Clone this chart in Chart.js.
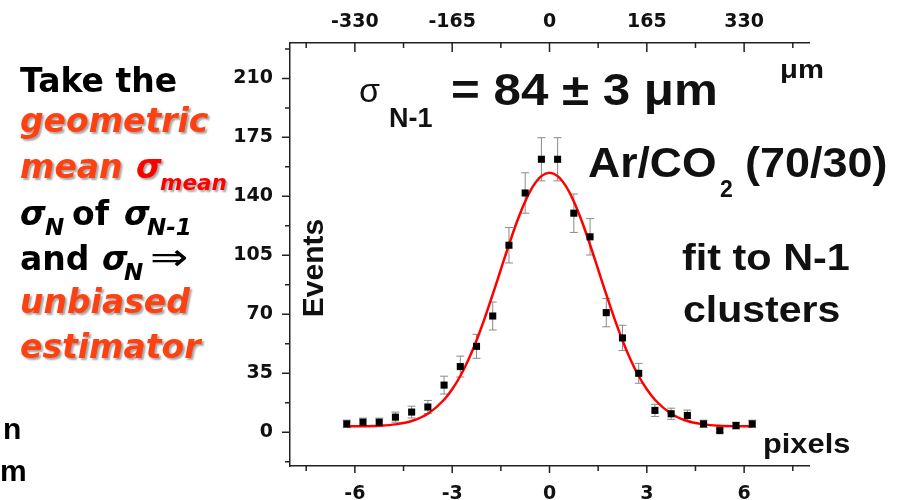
<!DOCTYPE html>
<html>
<head>
<meta charset="utf-8">
<script src="https://cdn.jsdelivr.net/npm/chart.js@4/dist/chart.umd.min.js"></script>
<style>
  html, body { margin: 0; padding: 0; background: #fff; }
  #wrap { width: 906px; height: 500px; position: relative; }
</style>
</head>
<body>
<div id="wrap"><canvas id="c" width="906" height="500"></canvas></div>
<script>
// residual histogram (pixels) with sqrt(N) error bars
const xBins = [-6.25, -5.75, -5.25, -4.75, -4.25, -3.75, -3.25, -2.75, -2.25, -1.75, -1.25, -0.75, -0.25,
               0.25, 0.75, 1.25, 1.75, 2.25, 2.75, 3.25, 3.75, 4.25, 4.75, 5.25, 5.75, 6.25];
const events = [5, 6, 6, 9, 12, 15, 28, 39, 51, 69, 111, 142, 162,
                162, 130, 116, 71, 56, 35, 13, 11, 10, 5, 1, 4, 5];
const errors = [2.2, 2.4, 2.4, 3, 3.5, 3.9, 5.3, 6.2, 7.1, 8.3, 10.5, 12, 12.8,
                12.8, 11.4, 10.8, 8.4, 7.5, 5.9, 3.6, 3.3, 3.2, 2.2, 1, 2, 2.2];

// gaussian fit curve
const fitX = [-6.25, -5.75, -5.25, -4.75, -4.25, -3.75, -3.25, -3, -2.75, -2.5, -2.25, -2, -1.75, -1.5, -1.25, -1, -0.75, -0.5, -0.25, 0,
              0.25, 0.5, 0.75, 1, 1.25, 1.5, 1.75, 2, 2.25, 2.5, 2.75, 3, 3.25, 3.75, 4.25, 4.75, 5.25, 5.75, 6.25];
const fitY = [3.5, 3.6, 3.9, 4.7, 6.7, 11, 19.3, 25.5, 33.4, 43.1, 54.5, 67.6, 81.8, 96.6, 111.3, 125.1, 137, 146.2, 152, 154,
              152, 146.2, 137, 125.1, 111.3, 96.6, 81.8, 67.6, 54.5, 43.1, 33.4, 25.5, 19.3, 11, 6.7, 4.7, 3.9, 3.6, 3.5];

// tick values
const xTicks = [-6, -3, 0, 3, 6];
const xMinor = [-7.5, -4.5, -1.5, 1.5, 4.5, 7.5];
const topTicks = [-330, -165, 0, 165, 330];
const topMinor = [-412.5, -247.5, -82.5, 82.5, 247.5, 412.5];
const yTicks = [0, 35, 70, 105, 140, 175, 210];
const yMinor = [-17.5, 17.5, 52.5, 87.5, 122.5, 157.5, 192.5, 227.5];

const ORANGE = '#ff4010';
const tickFont = { family: 'DejaVu Sans', size: 19, weight: 'bold' };

function txt(ctx, s, x, y, font, color, sx) {
    ctx.save();
    ctx.font = font;
    ctx.fillStyle = color;
    ctx.translate(x, y);
    ctx.scale(sx || 1, 1);
    ctx.fillText(s, 0, 0);
    ctx.restore();
}

const errorBars = {
    id: 'errorBars',
    beforeDatasetsDraw(chart) {
        const ctx = chart.ctx, xs = chart.scales.x, ys = chart.scales.y;
        ctx.save();
        ctx.strokeStyle = '#8a8a8a';
        ctx.lineWidth = 1;
        xBins.forEach((xv, i) => {
            const px = xs.getPixelForValue(xv);
            const t = ys.getPixelForValue(events[i] + errors[i]);
            const b = ys.getPixelForValue(events[i] - errors[i]);
            ctx.beginPath();
            ctx.moveTo(px, t); ctx.lineTo(px, b);
            ctx.moveTo(px - 4, t); ctx.lineTo(px + 4, t);
            ctx.moveTo(px - 4, b); ctx.lineTo(px + 4, b);
            ctx.stroke();
        });
        ctx.restore();
    }
};

const tickMarks = {
    id: 'tickMarks',
    afterDraw(chart) {
        const ctx = chart.ctx, a = chart.chartArea;
        const xs = chart.scales.x, x2 = chart.scales.x2, ys = chart.scales.y;
        ctx.save();
        ctx.strokeStyle = '#222';
        ctx.lineWidth = 1.5;
        ctx.beginPath();
        xTicks.forEach(v => { const p = xs.getPixelForValue(v); ctx.moveTo(p, a.bottom); ctx.lineTo(p, a.bottom + 7); });
        xMinor.forEach(v => { const p = xs.getPixelForValue(v); ctx.moveTo(p, a.bottom); ctx.lineTo(p, a.bottom + 5); });
        topTicks.forEach(v => { const p = x2.getPixelForValue(v); ctx.moveTo(p, a.top); ctx.lineTo(p, a.top + 9); });
        topMinor.forEach(v => { const p = x2.getPixelForValue(v); ctx.moveTo(p, a.top); ctx.lineTo(p, a.top + 5); });
        yTicks.forEach(v => { const p = ys.getPixelForValue(v); ctx.moveTo(a.left, p); ctx.lineTo(a.left - 8, p); });
        yMinor.forEach(v => { const p = ys.getPixelForValue(v); ctx.moveTo(a.left, p); ctx.lineTo(a.left - 5, p); });
        ctx.stroke();
        ctx.restore();
    }
};

const labels = {
    id: 'labels',
    afterDraw(chart) {
        const ctx = chart.ctx;
        ctx.save();
        ctx.textBaseline = 'alphabetic';
        ctx.textAlign = 'left';

        // axis title
        ctx.save();
        ctx.translate(323, 268);
        ctx.rotate(-Math.PI / 2);
        ctx.textAlign = 'center';
        ctx.font = 'bold 30px "Liberation Sans"';
        ctx.fillStyle = '#111';
        ctx.fillText('Events', 0, 0);
        ctx.restore();

        // in-plot annotations
        txt(ctx, 'σ', 359, 102, '34px "Liberation Sans"', '#111');
        txt(ctx, 'N-1', 389, 127, 'bold 27px "Liberation Sans"', '#111');
        txt(ctx, '= 84 ± 3 μm', 451, 105, 'bold 44px "Liberation Sans"', '#111', 1.12);
        txt(ctx, 'Ar/CO', 588, 177, 'bold 42px "Liberation Sans"', '#111', 1.06);
        txt(ctx, '2', 720, 197, 'bold 23px "Liberation Sans"', '#111');
        txt(ctx, '(70/30)', 745, 177, 'bold 42px "Liberation Sans"', '#111', 1.07);
        txt(ctx, 'fit to N-1', 682, 270, 'bold 36px "Liberation Sans"', '#111', 1.15);
        txt(ctx, 'clusters', 683, 322, 'bold 36px "Liberation Sans"', '#111', 1.14);
        txt(ctx, 'μm', 780, 78, 'bold 25px "Liberation Sans"', '#111', 1.17);
        txt(ctx, 'pixels', 763, 453, 'bold 28px "Liberation Sans"', '#111', 1.1);

        // left side text
        const B = 'bold 33px "DejaVu Sans"', I = 'italic bold 33px "DejaVu Sans"', S = 'italic bold 23px "DejaVu Sans"';
        txt(ctx, 'Take the', 20, 92, B, '#000');
        ctx.shadowColor = 'rgba(0,0,0,0.35)';
        ctx.shadowOffsetX = 2;
        ctx.shadowOffsetY = 2;
        ctx.shadowBlur = 2;
        txt(ctx, 'geometric', 20, 132, I, ORANGE);
        txt(ctx, 'mean', 20, 178, I, ORANGE);
        txt(ctx, 'σ', 136, 178, I, '#ff0000');
        txt(ctx, 'mean', 160, 190, 'italic bold 21.5px "DejaVu Sans"', '#ff0000');
        txt(ctx, 'unbiased', 20, 313, I, ORANGE);
        txt(ctx, 'estimator', 20, 358, I, ORANGE);
        ctx.shadowColor = 'transparent';
        txt(ctx, 'σ', 20, 225, I, '#000');
        txt(ctx, 'N', 45, 235, S, '#000');
        txt(ctx, 'of', 72, 225, B, '#000');
        txt(ctx, 'σ', 124, 225, I, '#000');
        txt(ctx, 'N-1', 147, 235, S, '#000');
        txt(ctx, 'and', 20, 270, B, '#000');
        txt(ctx, 'σ', 102, 270, I, '#000');
        txt(ctx, 'N', 124, 280, S, '#000');
        txt(ctx, '⇒', 150, 270, '38px "DejaVu Sans"', '#000', 1.2);
        txt(ctx, 'n', 3, 439, 'bold 30px "Liberation Sans"', '#000');
        txt(ctx, 'm', 0, 481, 'bold 30px "Liberation Sans"', '#000');
        ctx.restore();
    }
};

function axisLine() {
    return { display: true, color: '#222', width: 1.5 };
}

new Chart(document.getElementById('c'), {
    type: 'scatter',
    data: {
        datasets: [
            {
                type: 'line',
                data: fitX.map((x, i) => ({ x: x, y: fitY[i] })),
                borderColor: '#ff0000',
                borderWidth: 2.5,
                pointRadius: 0,
                cubicInterpolationMode: 'monotone',
                fill: false,
                order: 2
            },
            {
                data: xBins.map((x, i) => ({ x: x, y: events[i] })),
                pointStyle: 'rect',
                pointRadius: 5,
                backgroundColor: '#000',
                borderColor: '#000',
                borderWidth: 0,
                order: 1
            }
        ]
    },
    options: {
        responsive: false,
        animation: false,
        layout: { padding: { left: 0, right: 97, top: 0, bottom: 0 } },
        plugins: { legend: { display: false }, tooltip: { enabled: false } },
        scales: {
            x: {
                type: 'linear', position: 'bottom', min: -8, max: 8,
                afterBuildTicks: s => { s.ticks = xTicks.map(v => ({ value: v })); },
                afterFit: s => { s.height = 34; },
                grid: { drawOnChartArea: false, drawTicks: false },
                border: axisLine(),
                ticks: { font: tickFont, color: '#111', padding: 17, maxRotation: 0 }
            },
            x2: {
                type: 'linear', position: 'top', min: -440, max: 440,
                afterBuildTicks: s => { s.ticks = topTicks.map(v => ({ value: v })); },
                afterFit: s => { s.height = 43; },
                grid: { drawOnChartArea: false, drawTicks: false },
                border: axisLine(),
                ticks: { font: tickFont, color: '#111', padding: 10, maxRotation: 0 }
            },
            y: {
                type: 'linear', position: 'left', min: -20, max: 231,
                afterBuildTicks: s => { s.ticks = yTicks.map(v => ({ value: v })); },
                afterFit: s => { s.width = 290; },
                grid: { drawOnChartArea: false, drawTicks: false },
                border: axisLine(),
                ticks: { font: tickFont, color: '#111', padding: 17 }
            }
        }
    },
    plugins: [errorBars, tickMarks, labels]
});
</script>
</body>
</html>
